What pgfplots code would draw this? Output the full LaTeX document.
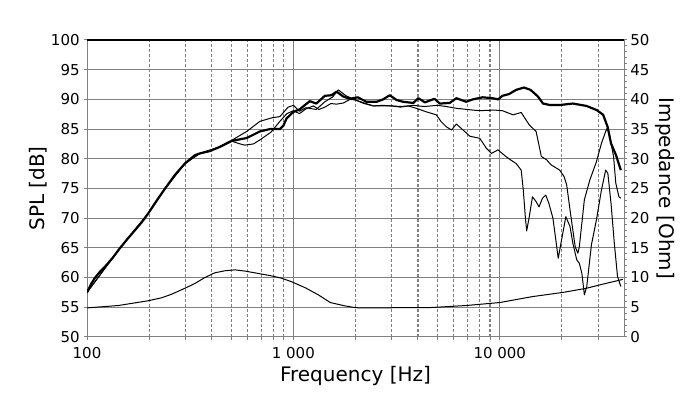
\documentclass[border=0pt]{standalone}
\usepackage{fontspec}
\setmainfont{DejaVu Sans}
\usepackage{pgfplots}
\pgfplotsset{compat=1.18}
\definecolor{gridgray}{RGB}{128,128,128}
\begin{document}
\begin{tikzpicture}[x=1pt,y=1pt]
\path[use as bounding box] (0,0) rectangle (350,199.5);
\begin{axis}[
  at={(43.5pt,31pt)}, anchor=south west,
  scale only axis, width=268.5pt, height=148.5pt,
  xmode=log, xmin=100, xmax=40000, ymin=50, ymax=100,
  ytick={50,55,60,65,70,75,80,85,90,95,100},
  xtick={100,1000,10000}, xticklabels={100,1 000,10 000},
  minor xtick={200,300,400,500,600,700,800,900,2000,3000,4000,5000,6000,7000,8000,9000,20000,30000},
  xmajorgrids, xminorgrids, ymajorgrids,
  major grid style={gridgray, solid, line width=0.5pt},
  minor grid style={gridgray, dash pattern=on 1.3pt off 1.2pt, line width=0.5pt},
  axis line style={gridgray, line width=0.5pt},
  tick style={gridgray, line width=0.5pt},
  major tick length=1.5pt, minor tick length=1.5pt,
  tick align=outside, xtick pos=bottom, ytick pos=left,
  /pgf/number format/assume math mode=true,
  ticklabel style={font=\fontsize{7.5}{9}\selectfont, inner sep=0pt},
  xticklabel style={anchor=base, yshift=-9.2pt},
  yticklabel style={anchor=base east, yshift=-2.7pt, xshift=-2pt},
  label style={font=\fontsize{7.8}{9.5}\selectfont},
  xlabel={Frequency [Hz]}, ylabel={SPL [dB]},
  every axis x label/.style={at={(axis description cs:0.5,-0.132)}, anchor=center},
  every axis y label/.style={at={(axis description cs:-0.0912,0.5)}, rotate=90, anchor=center},
  clip=true,
]
\draw[gridgray, dash pattern=on 1.3pt off 1.2pt, line width=1.1pt] (axis cs:4000,50) -- (axis cs:4000,100);
\draw[gridgray, dash pattern=on 1.3pt off 1.2pt, line width=1.1pt] (axis cs:9000,50) -- (axis cs:9000,100);
% thin curve B
\addplot[black, line width=0.5pt, line join=round] table {
100 57.5
144 64.9
198 70.8
239 75.0
298 79.2
352 80.9
440 82.0
480 82.8
500 83.0
540 82.6
580 82.3
640 82.5
690 83.2
780 84.5
860 86.3
930 87.6
1000 88.1
1070 87.6
1150 88.4
1250 88.9
1330 88.3
1420 88.7
1520 89.3
1620 89.2
1750 89.4
1880 90.0
2000 89.9
2200 89.4
2440 88.9
2700 89.0
3000 88.9
3300 88.8
3600 88.9
3940 88.5
4410 87.9
4930 87.4
5200 86.25
5500 85.4
5840 84.85
6160 85.85
6640 84.85
7160 83.8
8000 83.45
8600 81.8
9110 80.9
9810 81.5
10600 80.5
11300 79.8
12000 79.2
12700 78.1
13000 74.75
13300 70.25
13500 67.85
13900 70.25
14400 73.6
15000 72.8
15500 71.9
16100 73.35
16700 73.9
17300 72.5
18100 70.0
18700 66.3
19200 63.25
19800 65.8
20900 70.25
21900 68.6
22600 65.8
23600 63.0
24300 62.4
25000 60.7
25700 57.1
26400 58.5
27800 65.5
29400 69.7
31100 74.75
32600 78.1
33400 77.55
34600 72.5
35900 65.8
37200 60.2
38600 58.5
};
% thin curve A
\addplot[black, line width=0.5pt, line join=round] table {
100 57.5
144 64.9
198 70.8
239 75.0
298 79.2
352 80.9
440 82.0
502 83.1
594 84.6
688 86.3
787 86.9
860 87.1
943 88.7
1000 89.0
1070 88.0
1150 88.6
1290 88.3
1420 89.6
1550 90.4
1650 91.6
1800 90.6
2000 89.9
2200 89.3
2440 88.9
2700 88.9
3000 88.9
3300 88.7
3800 89.0
4300 88.8
5000 89.0
5500 88.8
6160 88.5
7400 88.2
8000 88.1
9400 88.2
10300 88.1
11600 87.4
12700 87.8
13900 85.7
15000 84.6
15900 80.4
16900 79.8
17700 79.0
19500 78.1
20500 77.0
21100 75.6
21900 71.4
22600 68.0
23200 65.2
23900 64.1
24300 65.2
25700 73.1
27300 76.4
29400 79.5
31100 82.6
32600 84.6
33400 85.4
34600 82.6
35600 80.4
36500 75.9
37800 73.6
38600 73.35
};
% on-axis (thick)
\addplot[black, line width=1.1pt, line join=round] table {
100 57.5
105 59.0
109 59.9
115 60.9
122 61.8
133 63.3
144 64.9
157 66.5
171 68.0
185 69.4
198 70.8
218 73.0
239 75.0
267 77.3
298 79.2
333 80.6
352 80.9
394 81.3
440 82.0
502 83.0
594 83.5
688 84.6
770 85.0
860 85.0
895 85.6
927 86.8
1000 87.9
1070 88.3
1200 89.7
1292 89.3
1420 90.6
1530 90.7
1620 91.3
1740 90.5
1880 90.1
2050 90.35
2260 89.6
2530 89.6
2720 90.0
2930 90.7
3160 89.9
3400 89.6
3810 89.4
4030 90.2
4340 89.5
4830 90.1
5120 89.3
5720 89.4
6160 90.2
6880 89.6
7400 90.0
8260 90.35
9230 90.2
9820 90.0
10300 90.6
11100 90.9
12000 91.6
13100 92.0
14100 91.6
15300 90.5
16200 89.3
17500 89.05
19500 89.05
22600 89.3
26300 88.9
29500 88.2
31700 87.4
33300 85.4
34600 82.6
36600 80.6
38600 78.1
};
\draw[black, line width=0.6pt] (rel axis cs:0,1) -- (rel axis cs:1,1);
\end{axis}
\begin{axis}[
  at={(43.5pt,31pt)}, anchor=south west,
  scale only axis, width=268.5pt, height=148.5pt,
  xmode=log, xmin=100, xmax=40000, ymin=0, ymax=50,
  axis x line=none, axis y line*=right,
  ytick={0,5,10,15,20,25,30,35,40,45,50},
  minor y tick num=4,
  axis line style={gridgray, line width=0.5pt, -},
  tick style={gridgray, line width=0.5pt},
  major tick length=1.5pt, minor tick length=1.5pt,
  tick align=outside,
  /pgf/number format/assume math mode=true,
  ticklabel style={font=\fontsize{7.5}{9}\selectfont, inner sep=0pt},
  yticklabel style={anchor=base west, yshift=-2.7pt, xshift=1.5pt},
  label style={font=\fontsize{7.8}{9.5}\selectfont},
  ylabel={Impedance [Ohm]},
  every axis y label/.style={at={(axis description cs:1.0764,0.5)}, rotate=-90, anchor=center},
]
\addplot[black, line width=0.5pt, line join=round] table {
100 4.9
142 5.3
198 6.1
230 6.6
257 7.2
298 8.2
333 9.0
372 10.0
416 10.8
466 11.15
521 11.3
582 11.1
675 10.7
781 10.3
876 9.9
980 9.3
1140 8.3
1320 7.1
1510 5.8
1770 5.25
1990 4.95
2100 4.9
4580 4.95
5500 5.1
6880 5.3
10000 5.8
14400 6.8
20200 7.5
26300 8.2
31600 8.9
39500 9.7
};
\end{axis}
\end{tikzpicture}
\end{document}
